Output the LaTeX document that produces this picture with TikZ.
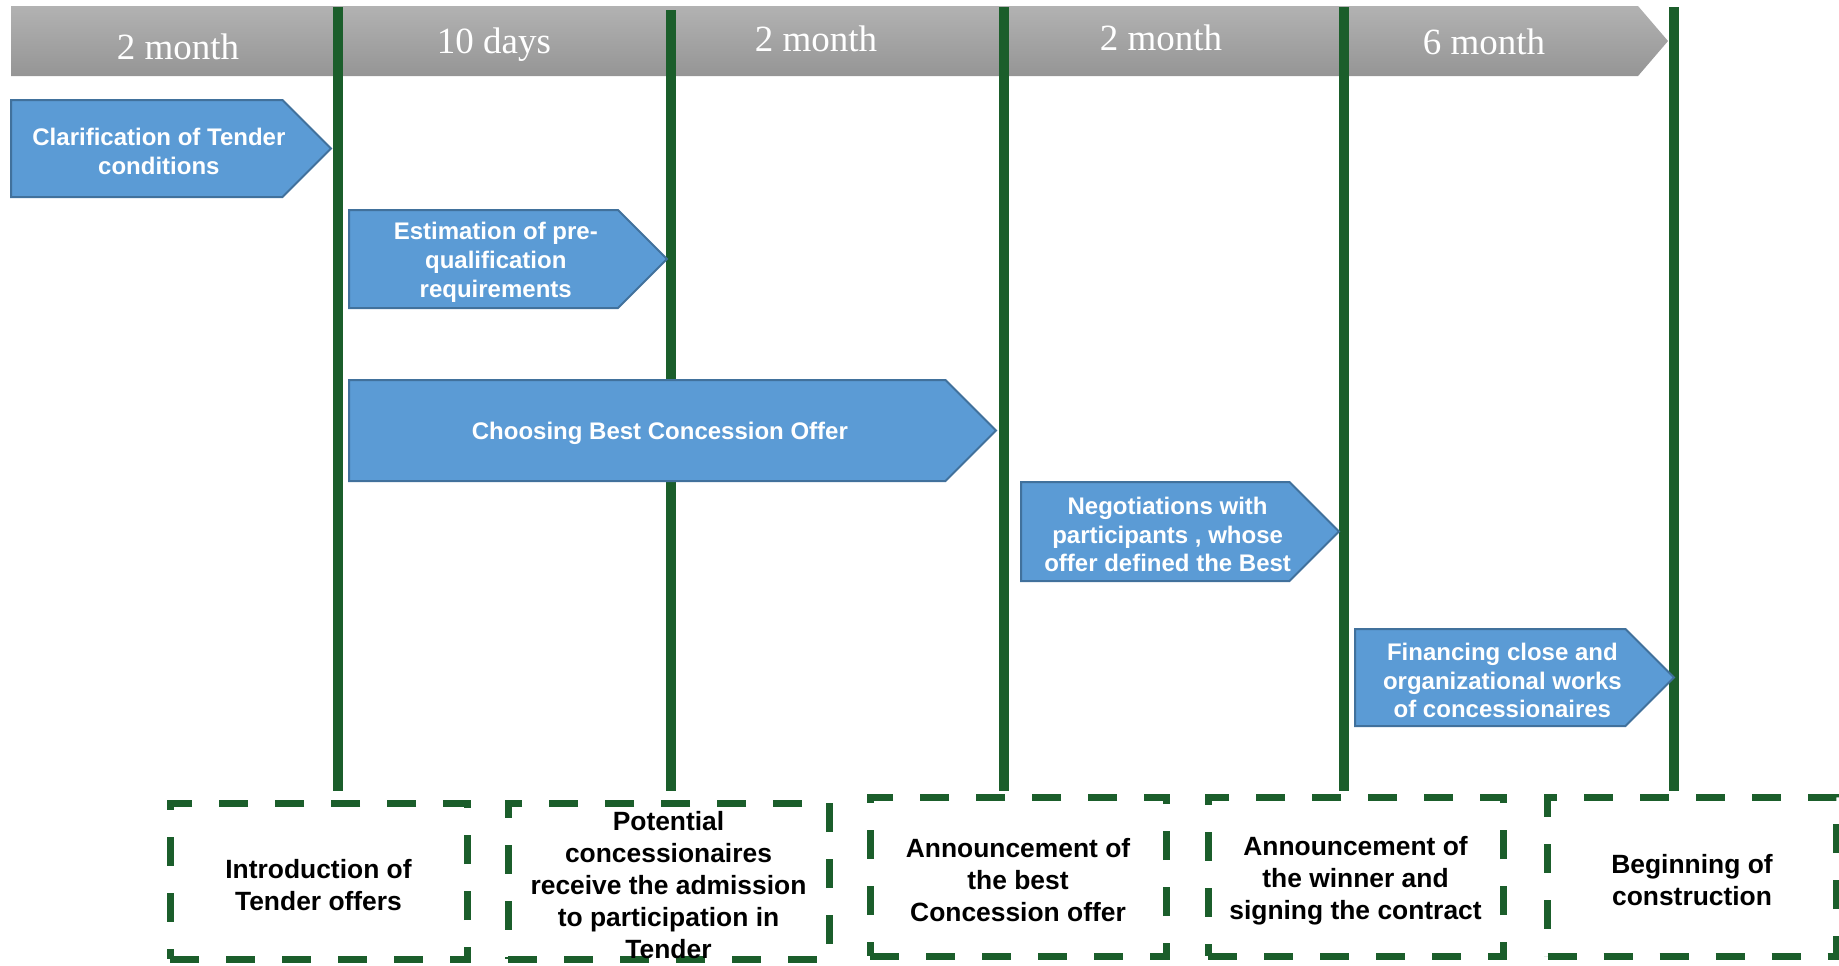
\documentclass[tikz,border=0pt]{standalone}
\usepackage{fontspec}
\setmainfont{Liberation Sans}
\newfontfamily\barfont{Liberation Serif}
\usepackage{tikz}

\definecolor{boundgreen}{HTML}{1B5E2B}
\definecolor{phaseblue}{HTML}{5B9BD5}
\definecolor{phaseedge}{HTML}{41719C}
\definecolor{barlight}{HTML}{B2B2B2}
\definecolor{bardark}{HTML}{959595}

\tikzset{
  phasebox/.style={fill=phaseblue, draw=phaseedge, line width=1pt},
  phasetext/.style={text=white, align=center, font=\fontsize{12}{14.4}\selectfont\bfseries},
  periodtext/.style={text=white, font=\barfont\fontsize{18.5}{20}\selectfont},
  boundary/.style={draw=boundgreen, line width=5pt},
  milestone/.style={draw=boundgreen, line width=3.5pt, dash pattern=on 14.5pt off 13.5pt,
    inner sep=0pt, align=center, font=\fontsize{13.2}{16}\selectfont\bfseries},
}

% taller first line, pushes milestone text down a little
\newcommand{\mstop}{\rule{0pt}{13.5pt}}

% phase arrow: name, left, tip, top, bottom, text
\newcommand{\phase}[6]{%
  \pgfmathsetmacro\phasemid{(#4+#5)/2}
  \pgfmathsetmacro\phaseknee{#3-(#5-#4)/2}
  \draw[phasebox] (#2,#4) -- (\phaseknee,#4) -- (#3,\phasemid) -- (\phaseknee,#5) -- (#2,#5) -- cycle;
  \node[phasetext] (#1) at ({(#2+\phaseknee)/2+(#3-\phaseknee)/4},\phasemid+3) {#6};
}

\begin{document}
\begin{tikzpicture}[x=0.5pt,y=-0.5pt]
  \useasboundingbox (0,0) rectangle (1839,965);

  % time bar
  \shade[top color=barlight, bottom color=bardark]
    (11,6) -- (1638,6) -- (1668,41) -- (1638,76) -- (11,76) -- cycle;
  \node[periodtext] (p1) at (178,47) {2 month};
  \node[periodtext] (p2) at (494,45) {10 days};
  \node[periodtext] (p3) at (816,39) {2 month};
  \node[periodtext] (p4) at (1161,38) {2 month};
  \node[periodtext] (p5) at (1484,42) {6 month};

  % milestones
  \node[milestone, minimum width=148.5pt, minimum height=78pt] (m1) at (318.5,881)
    {\mstop Introduction of\\Tender offers};
  \node[milestone, minimum width=160.5pt, minimum height=78pt] (m2) at (668.5,881)
    {\mstop Potential\\concessionaires\\receive the admission\\to participation in\\Tender};
  \node[milestone, minimum width=148pt, minimum height=79.5pt] (m3) at (1018,876.5)
    {\mstop Announcement of\\the best\\Concession offer};
  \node[milestone, minimum width=147.5pt, minimum height=79.5pt] (m4) at (1355.5,876.5)
    {\mstop Announcement of\\the winner and\\signing the contract};
  \node[milestone, minimum width=144.5pt, minimum height=79.5pt] (m5) at (1692,876.5)
    {\mstop Beginning of\\construction};

  % boundaries
  \coordinate (b1) at (338,7);
  \coordinate (b2) at (671,10);
  \coordinate (b3) at (1004,7);
  \coordinate (b4) at (1344,7);
  \coordinate (b5) at (1674,7);
  \draw[boundary, shorten >=4.5pt] (b1) -- (b1 |- m1.north);
  \draw[boundary, shorten >=4.5pt] (b2) -- (b2 |- m2.north);
  \draw[boundary, shorten >=1.5pt] (b3) -- (b3 |- m3.north);
  \draw[boundary, shorten >=1.5pt] (b4) -- (b4 |- m4.north);
  \draw[boundary, shorten >=1.5pt] (b5) -- (b5 |- m5.north);

  % phases
  \phase{a1}{11}{331}{100}{197}{Clarification of Tender\\conditions}
  \phase{a2}{349}{667}{210}{308}{Estimation of pre-\\qualification\\requirements}
  \phase{a3}{349}{996}{380}{481}{Choosing Best Concession Offer}
  \phase{a4}{1021}{1339}{482}{581}{Negotiations with\\participants , whose\\offer defined the Best}
  \phase{a5}{1355}{1674}{629}{726}{Financing close and\\organizational works\\of concessionaires}
\end{tikzpicture}
\end{document}
